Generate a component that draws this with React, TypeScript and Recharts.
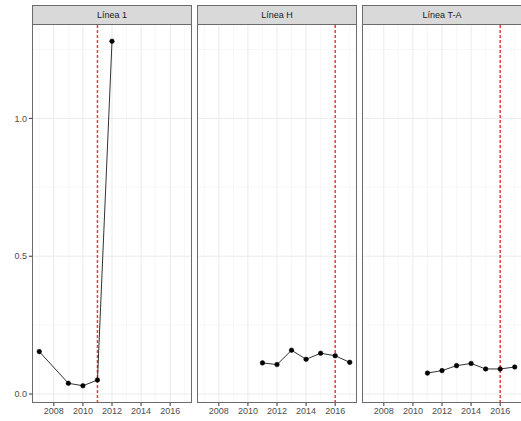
import { LineChart, Line, XAxis, YAxis, ReferenceLine } from 'recharts';

const panelNames = ['Línea 1', 'Línea H', 'Línea T-A'];
const cutYears = [2011, 2016, 2016];

const years1 = [2007, 2009, 2010, 2011, 2012];
const linea1 = [0.154, 0.039, 0.03, 0.051, 1.28];

const yearsH = [2011, 2012, 2013, 2014, 2015, 2016, 2017];
const lineaH = [0.113, 0.107, 0.159, 0.126, 0.148, 0.139, 0.115];

const yearsTA = [2011, 2012, 2013, 2014, 2015, 2016, 2017];
const lineaTA = [0.076, 0.085, 0.103, 0.111, 0.091, 0.091, 0.098];

const xTicks = [2008, 2010, 2012, 2014, 2016];
const xMinor = [2007, 2009, 2011, 2013, 2015, 2017];
const yTicks = [0, 0.5, 1.0];
const yMinor = [0.25, 0.75, 1.25];

const xDomain: [number, number] = [2006.5, 2017.5];
const yDomain: [number, number] = [-0.0325, 1.3425];

const FONT = '"Liberation Sans", Arial, sans-serif';
const BORDER = '#6b6b6b';
const CUT_RED = '#ee3b36';

const seriesData = [
  years1.map((y, i) => ({ year: y, value: linea1[i] })),
  yearsH.map((y, i) => ({ year: y, value: lineaH[i] })),
  yearsTA.map((y, i) => ({ year: y, value: lineaTA[i] })),
];

const panelLeft = [32, 197, 362];
const PANEL_W = 160;
const PLOT_TOP = 24;
const PLOT_BOTTOM = 403;
const STRIP_TOP = 5;

function Panel({ idx }: { idx: number }) {
  const withY = idx === 0;
  const yW = withY ? 32 : 0;
  const chartLeft = panelLeft[idx] - yW;
  const cut = cutYears[idx];
  return (
    <div style={{ position: 'absolute', left: chartLeft, top: 0 }}>
      <LineChart
        width={PANEL_W + yW + 1}
        height={421}
        data={seriesData[idx]}
        margin={{ top: PLOT_TOP, right: 1, bottom: 0, left: 0 }}
      >
        {xMinor
          .filter((x) => x !== cut)
          .map((x) => (
            <ReferenceLine key={'xm' + x} x={x} stroke="#f2f2f2" strokeWidth={0.6} />
          ))}
        {yMinor.map((y) => (
          <ReferenceLine key={'ym' + y} y={y} stroke="#f2f2f2" strokeWidth={0.6} />
        ))}
        {xTicks
          .filter((x) => x !== cut)
          .map((x) => (
            <ReferenceLine key={'x' + x} x={x} stroke="#ebebeb" strokeWidth={1} />
          ))}
        {yTicks.map((y) => (
          <ReferenceLine key={'y' + y} y={y} stroke="#ebebeb" strokeWidth={1} />
        ))}
        <XAxis
          dataKey="year"
          type="number"
          domain={xDomain}
          ticks={xTicks}
          allowDataOverflow
          height={421 - PLOT_BOTTOM}
          axisLine={false}
          tickSize={3}
          tickMargin={2}
          tickLine={{ stroke: '#333' }}
          tick={{ fontSize: 9, fill: '#4d4d4d', fontFamily: FONT }}
          interval={0}
        />
        <YAxis
          type="number"
          domain={yDomain}
          ticks={yTicks}
          allowDataOverflow
          hide={!withY}
          width={yW}
          axisLine={false}
          tickSize={3}
          tickMargin={2}
          tickLine={{ stroke: '#333' }}
          tick={{ fontSize: 9, fill: '#4d4d4d', fontFamily: FONT }}
          tickFormatter={(v: number) => v.toFixed(1)}
          interval={0}
        />
        <ReferenceLine x={cut} stroke={CUT_RED} strokeWidth={1.5} strokeDasharray="3 2" />
        <Line
          dataKey="value"
          stroke="#333"
          strokeWidth={1}
          dot={{ r: 2.3, fill: '#000', stroke: '#000', strokeWidth: 0.5 }}
          isAnimationActive={false}
        />
      </LineChart>
      <div
        style={{
          position: 'absolute',
          left: yW,
          top: PLOT_TOP,
          width: PANEL_W,
          height: PLOT_BOTTOM - PLOT_TOP,
          boxSizing: 'border-box',
          border: `1px solid ${BORDER}`,
          pointerEvents: 'none',
        }}
      />
      <div
        style={{
          position: 'absolute',
          left: yW,
          top: STRIP_TOP,
          width: PANEL_W,
          height: PLOT_TOP - STRIP_TOP + 1,
          boxSizing: 'border-box',
          border: `1px solid ${BORDER}`,
          background: '#d9d9d9',
          color: '#1a1a1a',
          fontFamily: FONT,
          fontSize: 9,
          lineHeight: `${PLOT_TOP - STRIP_TOP - 1}px`,
          textAlign: 'center',
        }}
      >
        {panelNames[idx]}
      </div>
    </div>
  );
}

export default function App() {
  return (
    <div
      style={{
        position: 'absolute',
        left: 0,
        top: 0,
        width: 521,
        height: 421,
        overflow: 'hidden',
        background: '#fff',
      }}
    >
      {panelNames.map((_, i) => (
        <Panel key={i} idx={i} />
      ))}
    </div>
  );
}
